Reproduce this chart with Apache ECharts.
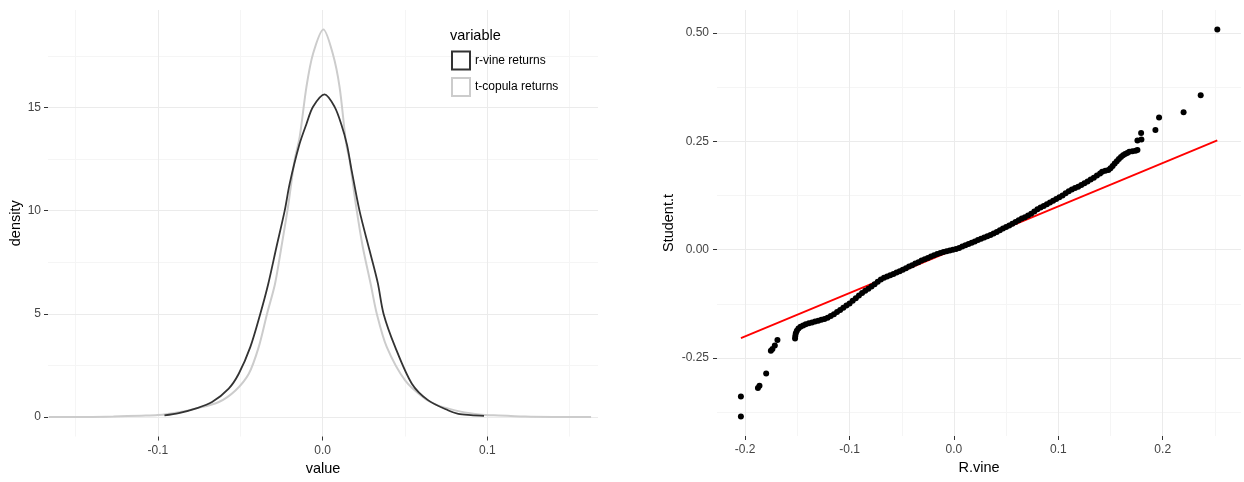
<!DOCTYPE html>
<html><head><meta charset="utf-8">
<script src="https://cdn.jsdelivr.net/npm/echarts@6/dist/echarts.min.js"></script>
<style>html,body{margin:0;padding:0;background:#fff}#c{width:1244px;height:482px}</style>
</head><body><div id="c"></div>
<script>
// ---------- Left panel: density curves ----------
const rvineValue   = [-0.096,-0.0873,-0.0772,-0.0671,-0.0570,-0.0509,-0.0439,-0.0378,-0.0330,-0.0280,-0.0230,-0.0200,-0.0141,-0.0098,-0.0058,0.0012,0.0073,0.0113,0.0148,0.0173,0.0224,0.0285,0.0335,0.0370,0.0441,0.0542,0.0642,0.0764,0.0824,0.0900,0.0980];
const rvineDensity = [0.08,0.19,0.41,0.73,1.38,2.10,3.39,5.01,6.45,8.24,10.0,11.3,13.2,14.2,15.03,15.63,15.03,14.2,13.2,12.1,10.0,8.08,6.5,5.01,3.39,1.62,0.81,0.32,0.16,0.10,0.06];
const tcopValue    = [-0.1662,-0.140,-0.127,-0.110,-0.100,-0.0873,-0.0772,-0.0630,-0.0529,-0.0448,-0.0388,-0.0337,-0.0289,-0.0250,-0.0210,-0.0170,-0.0139,-0.0098,-0.0058,0.0005,0.0062,0.0103,0.0143,0.0164,0.0204,0.0244,0.0292,0.0329,0.0390,0.0501,0.0622,0.0700,0.0764,0.0824,0.0950,0.1070,0.1230,0.1400,0.1630];
const tcopDensity  = [0.005,0.01,0.03,0.07,0.10,0.24,0.41,0.73,1.29,2.10,3.39,5.01,6.45,8.24,10.18,12.44,13.57,16.0,17.6,18.78,17.6,16.0,13.25,12.44,10.18,8.24,6.45,5.01,3.39,1.78,0.89,0.57,0.41,0.29,0.13,0.08,0.03,0.01,0.005];
const densXTicks = [-0.1, 0, 0.1];
const densXMinor = [-0.15, -0.05, 0.05, 0.15];
const densYTicks = [0, 5, 10, 15];
const densYMinor = [2.5, 7.5, 12.5, 17.5];

// ---------- Right panel: QQ plot ----------
const qqRvine = [
 -0.2041,-0.2041,-0.1878,-0.1863,-0.1799,-0.1754,-0.1739,-0.1716,-0.1691,
 -0.1522,-0.1520,-0.1515,-0.1505,-0.149,-0.147,-0.1445,-0.142,-0.139,-0.136,-0.133,-0.130,-0.127,-0.124,-0.121,-0.118,-0.115,-0.112,-0.109,-0.106,-0.103,-0.100,-0.097,-0.094,-0.091,-0.088,-0.085,-0.082,-0.079,-0.076,-0.073,-0.070,-0.067,-0.064,-0.061,-0.058,-0.055,-0.052,-0.049,-0.046,-0.043,-0.040,-0.037,-0.034,-0.031,-0.028,-0.025,-0.022,-0.019,-0.016,-0.013,-0.010,-0.007,-0.004,-0.001,
 0.002,0.005,0.008,0.011,0.014,0.017,0.020,0.023,0.026,0.029,0.032,0.035,0.038,0.041,0.044,0.047,0.050,0.053,0.056,0.059,0.062,0.065,0.068,0.071,0.074,0.077,0.080,0.083,0.086,0.089,0.092,0.095,0.098,0.101,0.104,0.107,0.110,0.113,0.116,0.119,0.122,0.125,0.128,0.131,0.134,0.137,0.140,0.142,0.145,0.148,0.150,0.152,0.154,0.156,0.158,0.160,0.162,0.164,0.166,0.168,0.171,0.174,
 0.1758,0.1758,0.1796,0.1793,0.193,0.1965,0.220,0.2364,0.2523];
const qqStudent = [
 -0.385,-0.339,-0.319,-0.314,-0.2855,-0.233,-0.229,-0.221,-0.2084,
 -0.205,-0.199,-0.193,-0.187,-0.182,-0.178,-0.175,-0.172,-0.170,-0.168,-0.166,-0.164,-0.162,-0.160,-0.157,-0.153,-0.149,-0.144,-0.139,-0.134,-0.129,-0.124,-0.118,-0.112,-0.106,-0.100,-0.095,-0.090,-0.085,-0.080,-0.074,-0.069,-0.065,-0.062,-0.059,-0.056,-0.053,-0.050,-0.0465,-0.043,-0.039,-0.036,-0.032,-0.029,-0.025,-0.022,-0.019,-0.016,-0.013,-0.010,-0.0075,-0.0055,-0.0038,-0.002,-0.0005,
 0.0015,0.004,0.007,0.010,0.013,0.016,0.019,0.022,0.025,0.028,0.031,0.034,0.037,0.041,0.045,0.049,0.052,0.056,0.060,0.064,0.068,0.072,0.075,0.079,0.083,0.088,0.093,0.097,0.101,0.105,0.109,0.113,0.117,0.121,0.125,0.130,0.135,0.139,0.142,0.145,0.149,0.153,0.157,0.162,0.166,0.171,0.176,0.180,0.182,0.184,0.188,0.193,0.199,0.204,0.209,0.214,0.218,0.221,0.223,0.226,0.227,0.228,
 0.230,0.2516,0.254,0.269,0.276,0.305,0.317,0.356,0.508];
const refLineX = [-0.2041, 0.2523];
const refLineY = [-0.2041, 0.2523];
const qqXTicks = [-0.2, -0.1, 0, 0.1, 0.2];
const qqXMinor = [-0.15, -0.05, 0.05, 0.15, 0.25];
const qqYTicks = [-0.25, 0, 0.25, 0.5];
const qqYMinor = [-0.375, -0.125, 0.125, 0.375];

const FONT = 'Liberation Sans, Arial, sans-serif';
const zip = (a, b) => a.map((v, i) => [v, b[i]]);

function axisPair(kind, gridIndex, min, max, major, minor, fmt, name, nameGap, margin) {
  const pos = kind === 'x' ? 'bottom' : 'left';
  const majorAxis = {
    type: 'value', gridIndex, min, max, position: pos, z: 2,
    axisLine: { show: false, onZero: false },
    axisTick: { show: true, length: 4, lineStyle: { color: '#333', width: 1 }, customValues: major },
    axisLabel: { customValues: major, formatter: fmt, color: '#444', fontSize: 12, fontFamily: FONT, margin },
    splitLine: { show: true, lineStyle: { color: '#ebebeb', width: 1 } },
    name, nameLocation: 'middle', nameGap,
    nameTextStyle: { color: '#000', fontSize: 14.5, fontFamily: FONT }
  };
  const minorAxis = {
    type: 'value', gridIndex, min, max, position: pos, z: 1,
    axisLine: { show: false, onZero: false },
    axisTick: { show: false, customValues: minor },
    axisLabel: { show: false, customValues: minor },
    splitLine: { show: true, lineStyle: { color: '#f5f5f5', width: 1 } }
  };
  return [majorAxis, minorAxis];
}

const fx1 = v => v.toFixed(1);
const fInt = v => String(Math.round(v));
const fx2 = v => v.toFixed(2);

const xAxes = [
  ...axisPair('x', 0, -0.1667, 0.1672, densXTicks, densXMinor, fx1, 'value', 24, 8),
  ...axisPair('x', 1, -0.227, 0.275, qqXTicks, qqXMinor, fx1, 'R.vine', 24, 8)
];
const yAxes = [
  ...axisPair('y', 0, -0.94, 19.72, densYTicks, densYMinor, fInt, 'density', 23, 7),
  ...axisPair('y', 1, -0.43, 0.553, qqYTicks, qqYMinor, fx2, 'Student.t', 41, 8)
];

const chart = echarts.init(document.getElementById('c'), null, { renderer: 'canvas' });
chart.setOption({
  animation: false,
  backgroundColor: '#fff',
  textStyle: { fontFamily: FONT },
  title: { text: 'variable', left: 450, top: 28, padding: 0,
           textStyle: { fontSize: 14.5, fontWeight: 'normal', color: '#000', fontFamily: FONT } },
  legend: {
    left: 451, top: 50.5, orient: 'vertical', itemWidth: 18, itemHeight: 18, itemGap: 6.5,
    icon: 'rect', selectedMode: false, padding: 0,
    textStyle: { fontSize: 12, color: '#000', fontFamily: FONT },
    data: [
      { name: 'r-vine returns', icon: 'rect', itemStyle: { color: '#fff', borderColor: '#333', borderWidth: 2 } },
      { name: 't-copula returns', icon: 'rect', itemStyle: { color: '#fff', borderColor: '#ccc', borderWidth: 2 } }
    ]
  },
  grid: [
    { left: 48, right: 646, top: 10, bottom: 45.5 },
    { left: 717, right: 3, top: 10, bottom: 46 }
  ],
  xAxis: xAxes,
  yAxis: yAxes,
  series: [
    { name: 't-copula returns', type: 'line', xAxisIndex: 0, yAxisIndex: 0, data: zip(tcopValue, tcopDensity),
      showSymbol: false, smooth: 0.3, lineStyle: { color: '#cccccc', width: 2 }, itemStyle: { color: '#cccccc' }, z: 3 },
    { name: 'r-vine returns', type: 'line', xAxisIndex: 0, yAxisIndex: 0, data: zip(rvineValue, rvineDensity),
      showSymbol: false, smooth: 0.3, lineStyle: { color: '#333333', width: 1.8 }, itemStyle: { color: '#333333' }, z: 4 },
    { name: 'reference', type: 'line', xAxisIndex: 2, yAxisIndex: 2, data: zip(refLineX, refLineY),
      showSymbol: false, lineStyle: { color: '#ff0000', width: 1.8 }, z: 3 },
    { name: 'qq', type: 'scatter', xAxisIndex: 2, yAxisIndex: 2, data: zip(qqRvine, qqStudent),
      symbolSize: 6, itemStyle: { color: '#000', opacity: 1 }, z: 4 }
  ]
});
</script></body></html>
